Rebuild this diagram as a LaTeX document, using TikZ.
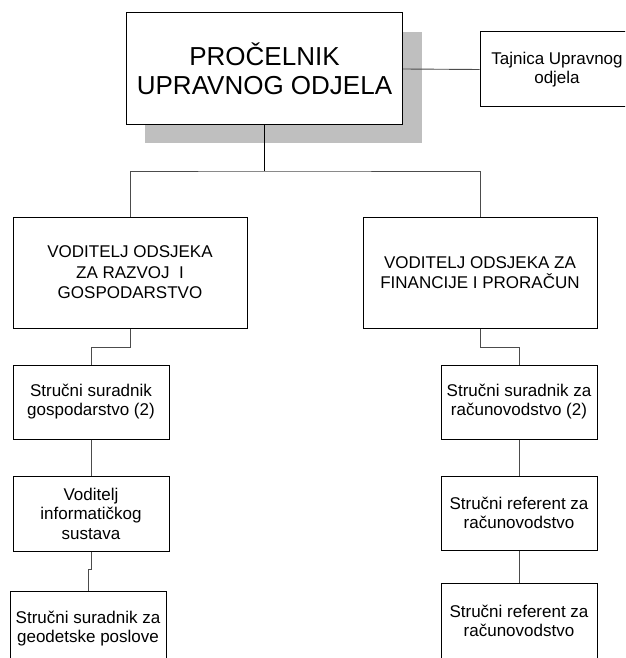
\documentclass[tikz,border=0pt]{standalone}
\usepackage{fontspec}
\setmainfont{Liberation Sans}
\begin{document}
\begin{tikzpicture}[x=1pt,y=-1pt,
  box/.style={draw=black,line width=1pt,fill=white,inner sep=0pt,align=center,
    font=\fontsize{17}{19}\selectfont},
  link/.style={draw=black!70,line width=0.9pt},
]
\useasboundingbox (0,0) rectangle (625,658);
\clip (0,0) rectangle (625,658);

% head of department with its drop shadow
\fill[black!25] (145,32) rectangle (422,143);
\node[box,minimum width=276pt,minimum height=112pt,
  font=\fontsize{26}{29}\selectfont] (top) at (264.5,69)
  {PROČELNIK\\UPRAVNOG ODJELA};

\node[box,minimum width=154pt,minimum height=75pt,
  font=\fontsize{17}{18.5}\selectfont] (taj) at (557,69.5)
  {Tajnica Upravnog\\odjela};

% section heads
\node[box,minimum width=234pt,minimum height=111pt,
  font=\fontsize{17}{20.5}\selectfont] (lv) at (130,272.5)
  {VODITELJ ODSJEKA\\ZA RAZVOJ\ \ I\\GOSPODARSTVO};
\node[box,minimum width=234pt,minimum height=111pt,
  font=\fontsize{17}{20.5}\selectfont] (rv) at (480,272.5)
  {VODITELJ ODSJEKA ZA\\FINANCIJE I PRORAČUN};

% left column staff
\node[box,minimum width=156pt,minimum height=74pt] (l1) at (91,402)
  {Stručni suradnik\\gospodarstvo (2)};
\node[box,minimum width=156pt,minimum height=75pt,
  font=\fontsize{17}{19.5}\selectfont] (l2) at (91,513.5)
  {Voditelj\\informatičkog\\sustava};
\node[box,minimum width=156pt,minimum height=75pt] (l3) at (88,628.5)
  {Stručni suradnik za\\geodetske poslove};

% right column staff
\node[box,minimum width=156pt,minimum height=74pt] (r1) at (519,402)
  {Stručni suradnik za\\računovodstvo (2)};
\node[box,minimum width=156pt,minimum height=74pt] (r2) at (519,513)
  {Stručni referent za\\računovodstvo};
\node[box,minimum width=156pt,minimum height=75pt] (r3) at (519,621)
  {Stručni referent za\\računovodstvo};

% connectors
\coordinate (bar) at (264.5,171);
\draw[link] (top.east) -- (taj.west);
\draw[link,draw=black] (top.south) -- (bar);
\draw[link] (lv.north) |- (bar) -| (rv.north);
\draw[link] (lv.south) -- ++(0,19) -| (l1.north);
\draw[link] (rv.south) -- ++(0,19) -| (r1.north);
\draw[link] (l1.south) -- (l2.north);
\draw[link] (l2.south) -- ++(0,18) -| (l3.north);
\draw[link] (r1.south) -- (r2.north);
\draw[link] (r2.south) -- (r3.north);
\end{tikzpicture}
\end{document}
